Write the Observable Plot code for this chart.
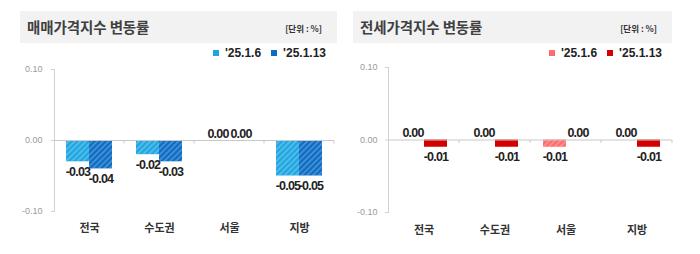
<!DOCTYPE html>
<html><head><meta charset="utf-8">
<script src="https://cdn.jsdelivr.net/npm/d3@7"></script>
<script src="https://cdn.jsdelivr.net/npm/@observablehq/plot@0.6"></script>
<style>
body{margin:0;background:#fff;}
#root{position:relative;width:700px;height:254px;overflow:hidden;font-family:"Noto Sans CJK KR","Noto Sans",sans-serif;}
.tbar{position:absolute;top:11px;height:32px;background:#f2f2f2;}
.title{position:absolute;left:7px;top:0;line-height:32px;font-size:14.5px;font-weight:700;color:#404040;letter-spacing:-0.1px;white-space:nowrap}
.unit{position:absolute;right:15px;top:1px;line-height:32px;font-size:8.5px;font-weight:700;color:#333;white-space:nowrap}
.legend{position:absolute;top:46px;height:14px;font-family:"Liberation Sans",Arial,sans-serif;font-weight:700;font-size:12px;color:#222;display:flex;align-items:center;white-space:nowrap}
.sw{display:inline-block;width:6px;height:6px;margin-right:6px}
.gap{display:inline-block;width:10px}
.chart{position:absolute;top:60px}
.chart g[aria-label="text"]{letter-spacing:-0.8px}
</style></head><body>
<div id="root"></div>
<svg width="0" height="0" style="position:absolute;left:0;top:0"><defs>
<pattern id="hatch" patternUnits="userSpaceOnUse" width="4" height="4" patternTransform="rotate(45)"><rect width="1.6" height="4" fill="rgba(255,255,255,0.28)"/></pattern>
</defs></svg>
<script>
const categories = ["전국", "수도권", "서울", "지방"];
const series = ["'25.1.6", "'25.1.13"];
const saleJan6 = [-0.03, -0.02, 0.00, -0.05];
const saleJan13 = [-0.04, -0.03, 0.00, -0.05];
const rentJan6 = [0.00, 0.00, -0.01, 0.00];
const rentJan13 = [-0.01, -0.01, 0.00, -0.01];
const yTicks = [-0.10, 0.00, 0.10];
const titles = ["매매가격지수 변동률", "전세가격지수 변동률"];
const unitLabel = "[단위 : %]";
const saleColors = ["#1ea6e2", "#0b6cc4"];
const rentColors = ["#ff6a6a", "#d40000"];

function rows(a, b) {
  const out = [];
  categories.forEach((c, i) => {
    out.push({cat: c, series: series[0], value: a[i]});
    out.push({cat: c, series: series[1], value: b[i]});
  });
  return out;
}

const root = document.getElementById("root");

function panel(cfg) {
  const tb = document.createElement("div");
  tb.className = "tbar";
  tb.style.left = cfg.barLeft + "px";
  tb.style.width = cfg.barWidth + "px";
  tb.innerHTML = `<div class="title"></div><div class="unit"></div>`;
  tb.querySelector(".title").textContent = cfg.title;
  tb.querySelector(".unit").textContent = unitLabel;
  root.appendChild(tb);

  const lg = document.createElement("div");
  lg.className = "legend";
  lg.style.right = cfg.legendRight + "px";
  series.forEach((s, i) => {
    if (i) { const g = document.createElement("span"); g.className = "gap"; lg.appendChild(g); }
    const sw = document.createElement("span");
    sw.className = "sw";
    sw.style.background = cfg.colors[i];
    lg.appendChild(sw);
    const t = document.createElement("span");
    t.textContent = s;
    lg.appendChild(t);
  });
  root.appendChild(lg);

  const data = cfg.data;
  const labelStyle = {fontFamily: "'Liberation Sans',Arial,sans-serif", fontWeight: "bold", fontSize: 12.5, fill: "#222"};
  const chart = Plot.plot({
    width: 350, height: 185,
    marginLeft: cfg.mL, marginRight: cfg.mR, marginTop: cfg.mT, marginBottom: cfg.mB,
    fx: {domain: categories, padding: 0, label: null},
    x: {domain: series, paddingInner: 0, paddingOuter: 0.5, axis: null},
    y: {domain: [-0.1, 0.1], label: null},
    color: {domain: series, range: cfg.colors},
    style: {fontFamily: "'Liberation Sans',Arial,sans-serif", background: "transparent", overflow: "visible"},
    marks: [
      Plot.frame({anchor: "left", facetAnchor: "left", stroke: "#d2d2d2"}),
      Plot.axisY({ticks: yTicks, tickFormat: d => d.toFixed(2), tickSize: 3, tickPadding: cfg.tickPad, stroke: "#d2d2d2", fill: "#9a9a9a", fontSize: 9, label: null}),
      Plot.axisFx({anchor: "bottom", tickSize: 0, tickPadding: cfg.fxPad, label: null, fontSize: 11, fontWeight: "bold", fill: "#333", fontFamily: "'Noto Sans CJK KR',sans-serif"}),
      Plot.barY(data, {fx: "cat", x: "series", y: "value", fill: "series"}),
      Plot.barY(data.filter(d => cfg.hatched.includes(d.series)), {fx: "cat", x: "series", y: "value", fill: "url(#hatch)"}),
      Plot.ruleY([0], {stroke: "#c8c8c8", render(index, scales, values, dims, context, next) {
        const g = next(index, scales, values, dims, context);
        const line = g.querySelector("line");
        if (line) {
          const t = document.createElementNS("http://www.w3.org/2000/svg", "line");
          const x = line.getAttribute("x2"), y = +line.getAttribute("y1");
          t.setAttribute("x1", x); t.setAttribute("x2", x);
          t.setAttribute("y1", y); t.setAttribute("y2", y + 3);
          line.parentNode.appendChild(t);
        }
        return g;
      }}),
      Plot.text(data.filter(d => d.value < 0), {fx: "cat", x: "series", y: "value", text: d => d.value.toFixed(2), lineAnchor: "top", dy: 5, ...labelStyle}),
      Plot.text(data.filter(d => d.value >= 0), {fx: "cat", x: "series", y: "value", text: d => d.value.toFixed(2), lineAnchor: "bottom", dy: -3, ...labelStyle})
    ]
  });
  chart.classList.add("chart");
  chart.style.left = cfg.left + "px";
  root.appendChild(chart);
}

panel({title: titles[0], barLeft: 20, barWidth: 317, legendRight: 374, colors: saleColors, hatched: series,
  data: rows(saleJan6, saleJan13), left: 0, mL: 52, mR: 15, mT: 9, mB: 34, tickPad: 9, fxPad: 13});
panel({title: titles[1], barLeft: 353, barWidth: 319, legendRight: 38, colors: rentColors, hatched: [series[0]],
  data: rows(rentJan6, rentJan13), left: 350, mL: 37, mR: 28, mT: 7, mB: 33, tickPad: 8, fxPad: 14});
</script>
</body></html>
